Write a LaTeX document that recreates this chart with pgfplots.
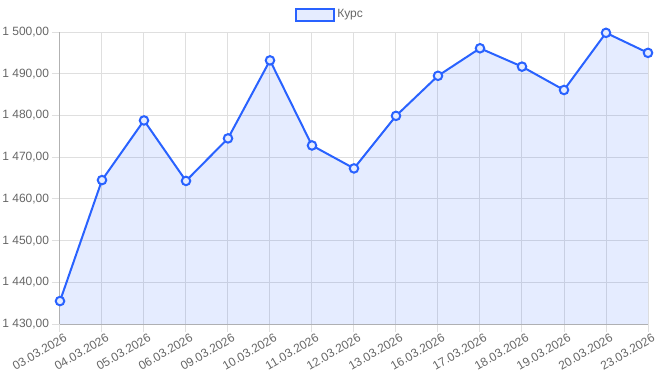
\documentclass[border=0pt]{standalone}
\usepackage{fontspec}
\setmainfont{Liberation Sans}
\usepackage{pgfplots}
\pgfplotsset{compat=1.18}
\definecolor{lineblue}{RGB}{41,98,255}
\definecolor{fillblue}{RGB}{229,236,255}
\definecolor{gridc}{RGB}{223,223,223}
\definecolor{txt}{RGB}{102,102,102}
\begin{document}
\begin{tikzpicture}[x=1pt,y=1pt]
\begin{axis}[
  at={(0,0)}, anchor=south west,
  scale only axis,
  width=441pt, height=219pt,
  xmin=0, xmax=14, ymin=1430, ymax=1500,
  xtick={0,...,14},
  xticklabels={03.03.2026,04.03.2026,05.03.2026,06.03.2026,09.03.2026,10.03.2026,11.03.2026,12.03.2026,13.03.2026,16.03.2026,17.03.2026,18.03.2026,19.03.2026,20.03.2026,23.03.2026},
  ytick={1430,1440,...,1500},
  yticklabels={{1 430,00},{1 440,00},{1 450,00},{1 460,00},{1 470,00},{1 480,00},{1 490,00},{1 500,00}},
  grid=major,
  major grid style={gridc, line width=0.75pt},
  axis line style={gridc!80!black, line width=0.75pt},
  tick style={gridc, line width=0.75pt},
  tick align=outside,
  major tick length=6pt,
  axis lines*=left,
  /pgf/number format/assume math mode=true,
  tick label style={font=\fontsize{9}{11}\selectfont, text=txt},
  xticklabel style={rotate=30, anchor=north east, inner sep=1pt, xshift=3pt, yshift=-1pt},
  yticklabel style={inner sep=2pt},
  legend style={at={(0.46,1)}, anchor=south, yshift=7pt, draw=none, fill=none,
    font=\fontsize{9}{11}\selectfont, text=txt, inner sep=0pt},
  legend image code/.code={\draw[lineblue, line width=1.5pt, fill=fillblue] (0pt,-4.5pt) rectangle (28pt,4.5pt);},
  clip=false,
]
\addplot[draw=none, fill=lineblue, fill opacity=0.12, forget plot] coordinates {
(0,1435.5) (1,1464.5) (2,1478.8) (3,1464.3) (4,1474.5) (5,1493.2) (6,1472.8) (7,1467.3) (8,1479.9) (9,1489.5) (10,1496.1) (11,1491.7) (12,1486.1) (13,1499.8) (14,1495.0)
} -- (axis cs:14,1430) -- (axis cs:0,1430) -- cycle;
\addplot[lineblue, line width=1.5pt, mark=*, mark size=3.2pt,
  mark options={draw=lineblue, fill=fillblue, line width=1.5pt}] coordinates {
(0,1435.5) (1,1464.5) (2,1478.8) (3,1464.3) (4,1474.5) (5,1493.2) (6,1472.8) (7,1467.3) (8,1479.9) (9,1489.5) (10,1496.1) (11,1491.7) (12,1486.1) (13,1499.8) (14,1495.0)
};
\addlegendentry{Курс}
\end{axis}
\pgfresetboundingbox
\path (-45pt,-42pt) rectangle (448.5pt,243pt);
\end{tikzpicture}
\end{document}
